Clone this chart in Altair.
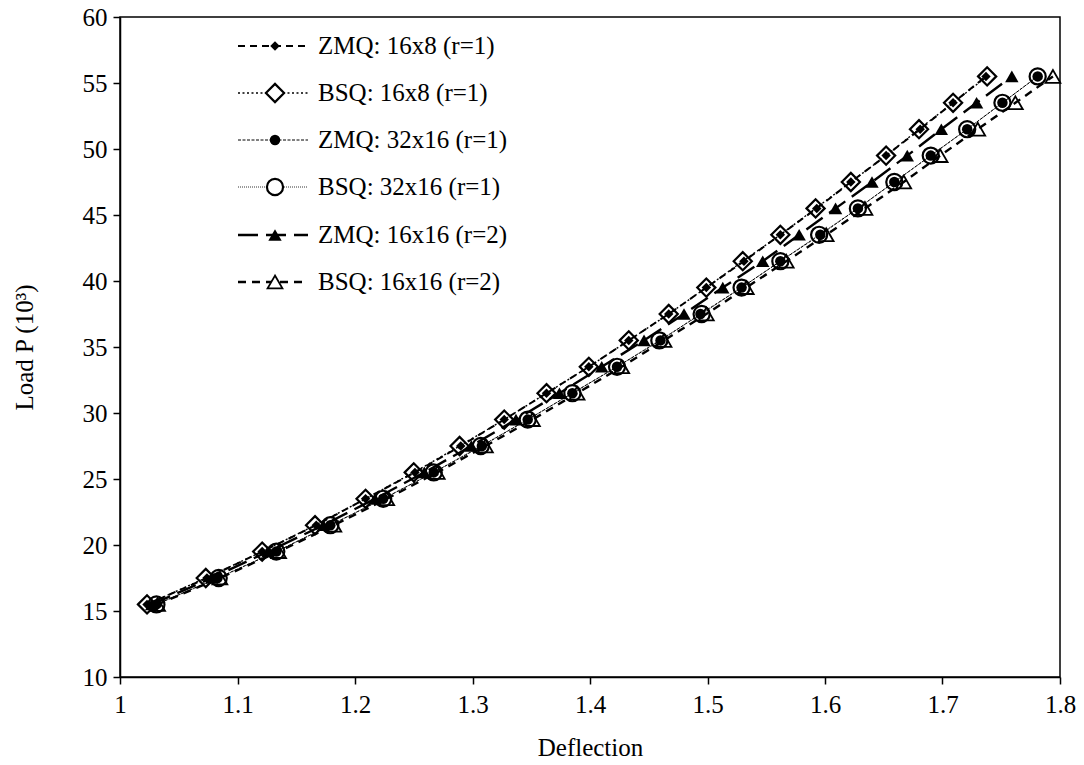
import altair as alt
import pandas as pd

# ---------------- data ----------------
load = [15.5, 17.5, 19.5, 21.5, 23.5, 25.5, 27.5, 29.5, 31.5, 33.5, 35.5,
        37.5, 39.5, 41.5, 43.5, 45.5, 47.5, 49.5, 51.5, 53.5, 55.5]

zmq_16x8 = [1.023, 1.074, 1.121, 1.167, 1.209, 1.251, 1.290, 1.327, 1.363, 1.399, 1.433,
            1.467, 1.499, 1.531, 1.562, 1.593, 1.622, 1.652, 1.681, 1.709, 1.737]
bsq_16x8 = [1.023, 1.073, 1.121, 1.166, 1.209, 1.250, 1.289, 1.327, 1.363, 1.399, 1.433,
            1.467, 1.499, 1.530, 1.562, 1.592, 1.622, 1.652, 1.680, 1.709, 1.738]
zmq_32x16 = [1.031, 1.083, 1.133, 1.179, 1.224, 1.267, 1.308, 1.347, 1.385, 1.423, 1.460,
             1.494, 1.529, 1.562, 1.596, 1.628, 1.659, 1.690, 1.721, 1.751, 1.781]
bsq_32x16 = [1.031, 1.084, 1.133, 1.179, 1.224, 1.267, 1.307, 1.347, 1.385, 1.423, 1.459,
             1.495, 1.529, 1.562, 1.595, 1.628, 1.659, 1.690, 1.721, 1.751, 1.781]
zmq_16x16 = [1.027, 1.078, 1.126, 1.173, 1.217, 1.259, 1.299, 1.337, 1.374, 1.410, 1.446,
             1.480, 1.513, 1.547, 1.578, 1.609, 1.640, 1.670, 1.699, 1.729, 1.759]
bsq_16x16 = [1.032, 1.085, 1.135, 1.182, 1.227, 1.270, 1.311, 1.351, 1.389, 1.427, 1.463,
             1.499, 1.533, 1.567, 1.601, 1.634, 1.667, 1.698, 1.730, 1.762, 1.794]

series_names = ["ZMQ: 16x8 (r=1)", "BSQ: 16x8 (r=1)", "ZMQ: 32x16 (r=1)",
                "BSQ: 32x16 (r=1)", "ZMQ: 16x16 (r=2)", "BSQ: 16x16 (r=2)"]
series_defl = [zmq_16x8, bsq_16x8, zmq_32x16, bsq_32x16, zmq_16x16, bsq_16x16]

x_ticks = [1.0, 1.1, 1.2, 1.3, 1.4, 1.5, 1.6, 1.7, 1.8]
y_ticks = [10, 15, 20, 25, 30, 35, 40, 45, 50, 55, 60]

# ---------------- styles ----------------
FONT = "Liberation Serif"
FS = 25
styles = [
    dict(dash=[7, 5], lw=2.0, shape="diamond", size=90, filled=True, sw=1.0),
    dict(dash=[2, 2.5], lw=1.4, shape="diamond", size=330, filled=False, sw=2.2),
    dict(dash=[3, 1.5], lw=1.0, shape="circle", size=110, filled=True, sw=1.0),
    dict(dash=[1, 1], lw=0.8, shape="circle", size=260, filled=False, sw=2.2),
    dict(dash=[20, 8], lw=2.4, shape="triangle-up", size=180, filled=True, sw=1.0),
    dict(dash=[8, 6], lw=2.4, shape="triangle-up", size=220, filled=False, sw=1.8),
]
# legend layout (pixels inside the plot area)
legend_rows = [29, 76, 123, 170, 218, 265]
leg_x0, leg_x1, leg_xm, leg_xt = 118, 188, 155, 198

xscale = alt.Scale(domain=[1.0, 1.8], nice=False, zero=False)
yscale = alt.Scale(domain=[10, 60], nice=False, zero=False)

xaxis = alt.Axis(title="Deflection", values=x_ticks, format=".1~f", grid=False,
                 labelFont=FONT, labelFontSize=FS, labelColor="black", labelPadding=8,
                 titleFont=FONT, titleFontSize=FS, titleFontWeight="normal",
                 titleColor="black", titlePadding=18,
                 domainColor="black", domainWidth=1.5, tickColor="black",
                 tickWidth=1.5, tickSize=7, labelFlush=False)
yaxis = alt.Axis(title="Load P (10³)", values=y_ticks, grid=False,
                 labelFont=FONT, labelFontSize=FS, labelColor="black", labelPadding=6,
                 titleFont=FONT, titleFontSize=FS, titleFontWeight="normal",
                 titleColor="black", titlePadding=45,
                 domainColor="black", domainWidth=1.5, tickColor="black",
                 tickWidth=1.5, tickSize=7)

layers = []
def enc_for():
    return dict(
        x=alt.X("deflection:Q", scale=xscale, axis=xaxis),
        y=alt.Y("load:Q", scale=yscale, axis=yaxis),
    )

for i, (name, xs) in enumerate(zip(series_names, series_defl)):
    st = styles[i]
    df = pd.DataFrame({"deflection": xs, "load": load, "series": name})
    layers.append(alt.Chart(df).mark_line(color="black", strokeDash=st["dash"],
                                          strokeWidth=st["lw"]).encode(**enc_for()))

for i, (name, xs) in enumerate(zip(series_names, series_defl)):
    st = styles[i]
    df = pd.DataFrame({"deflection": xs, "load": load, "series": name})
    base = alt.Chart(df)
    if st["filled"]:
        pm = base.mark_point(shape=st["shape"], size=st["size"], filled=True,
                             color="black", opacity=1)
    else:
        pm = base.mark_point(shape=st["shape"], size=st["size"], filled=False,
                             color="black", strokeWidth=st["sw"], opacity=1)
    layers.append(pm.encode(**enc_for()))

# ---------------- manual legend ----------------
for i, name in enumerate(series_names):
    st = styles[i]
    ldf = pd.DataFrame({"label": [name]})
    lb = alt.Chart(ldf)
    yv = legend_rows[i]
    layers.append(lb.mark_rule(color="black", strokeDash=st["dash"],
                               strokeWidth=st["lw"]).encode(
        x=alt.value(leg_x0), x2=alt.value(leg_x1), y=alt.value(yv)))
    if st["filled"]:
        lp = lb.mark_point(shape=st["shape"], size=st["size"], filled=True,
                           color="black", opacity=1)
    else:
        lp = lb.mark_point(shape=st["shape"], size=st["size"], filled=False,
                           color="black", strokeWidth=st["sw"], fill="white",
                           fillOpacity=1, opacity=1)
    layers.append(lp.encode(x=alt.value(leg_xm), y=alt.value(yv)))
    layers.append(lb.mark_text(align="left", baseline="middle", font=FONT,
                               fontSize=FS, color="black").encode(
        x=alt.value(leg_xt), y=alt.value(yv), text="label:N"))

chart = alt.layer(*layers).properties(
    width=940, height=660,
    padding={"left": 120, "top": 17, "right": 24, "bottom": 88},
    autosize=alt.AutoSizeParams(type="none"),
    background="white",
).configure_view(stroke="black", strokeWidth=1.5)

chart.save("out.html", embed_options={"renderer": "svg", "actions": False})
